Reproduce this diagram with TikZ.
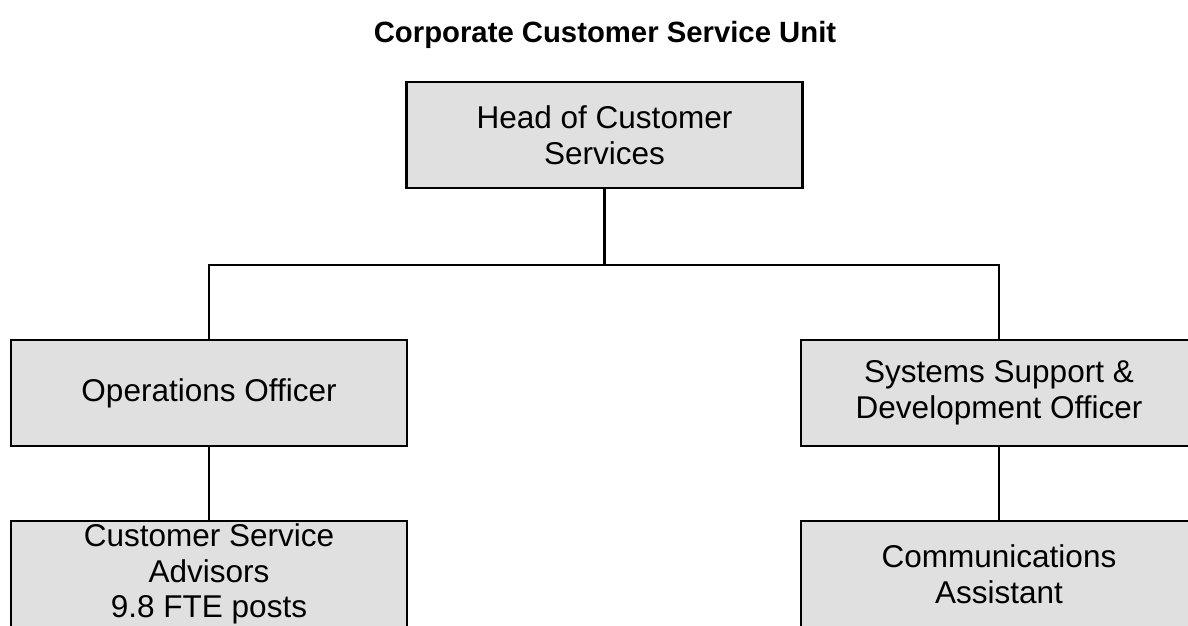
\documentclass[tikz,border=0pt]{standalone}
\usepackage{fontspec}
\setmainfont{Liberation Sans}
\definecolor{postfill}{RGB}{224,224,224}
\begin{document}
\begin{tikzpicture}[x=1pt,y=-1pt,
  post/.style={draw=black, line width=2.2pt, fill=postfill, rectangle,
    minimum width=396pt, minimum height=106pt, inner sep=0pt,
    align=center, font=\fontsize{31.5}{35.5}\selectfont},
  link/.style={draw=black, line width=2.2pt}]
  % page frame; the lower boxes run past its bottom and right edges
  \clip (0,0) rectangle (1188,626);
  \fill[white] (0,0) rectangle (1188,626);

  \node[anchor=base, font=\bfseries\fontsize{29.3}{34}\selectfont] (title) at (605,43)
    {Corporate Customer Service Unit};

  \node[post] (head) at (604.5,135) {Head of Customer\\Services};
  \node[post] (ops)  at (209,393) {Operations Officer};
  \node[post] (sys)  at (999,393) {Systems Support \&\\Development Officer};
  \node[post] (csa)  at (209,574) {Customer Service\\Advisors\\9.8 FTE posts};
  \node[post] (comm) at (999,574) {Communications\\Assistant};

  % reporting lines
  \coordinate (bus) at (604.5,265);
  \draw[link] (head.south) -- (bus);
  \draw[link] (ops.north) |- (bus) -| (sys.north);
  \draw[link] (ops.south) -- (csa.north);
  \draw[link] (sys.south) -- (comm.north);
\end{tikzpicture}
\end{document}
